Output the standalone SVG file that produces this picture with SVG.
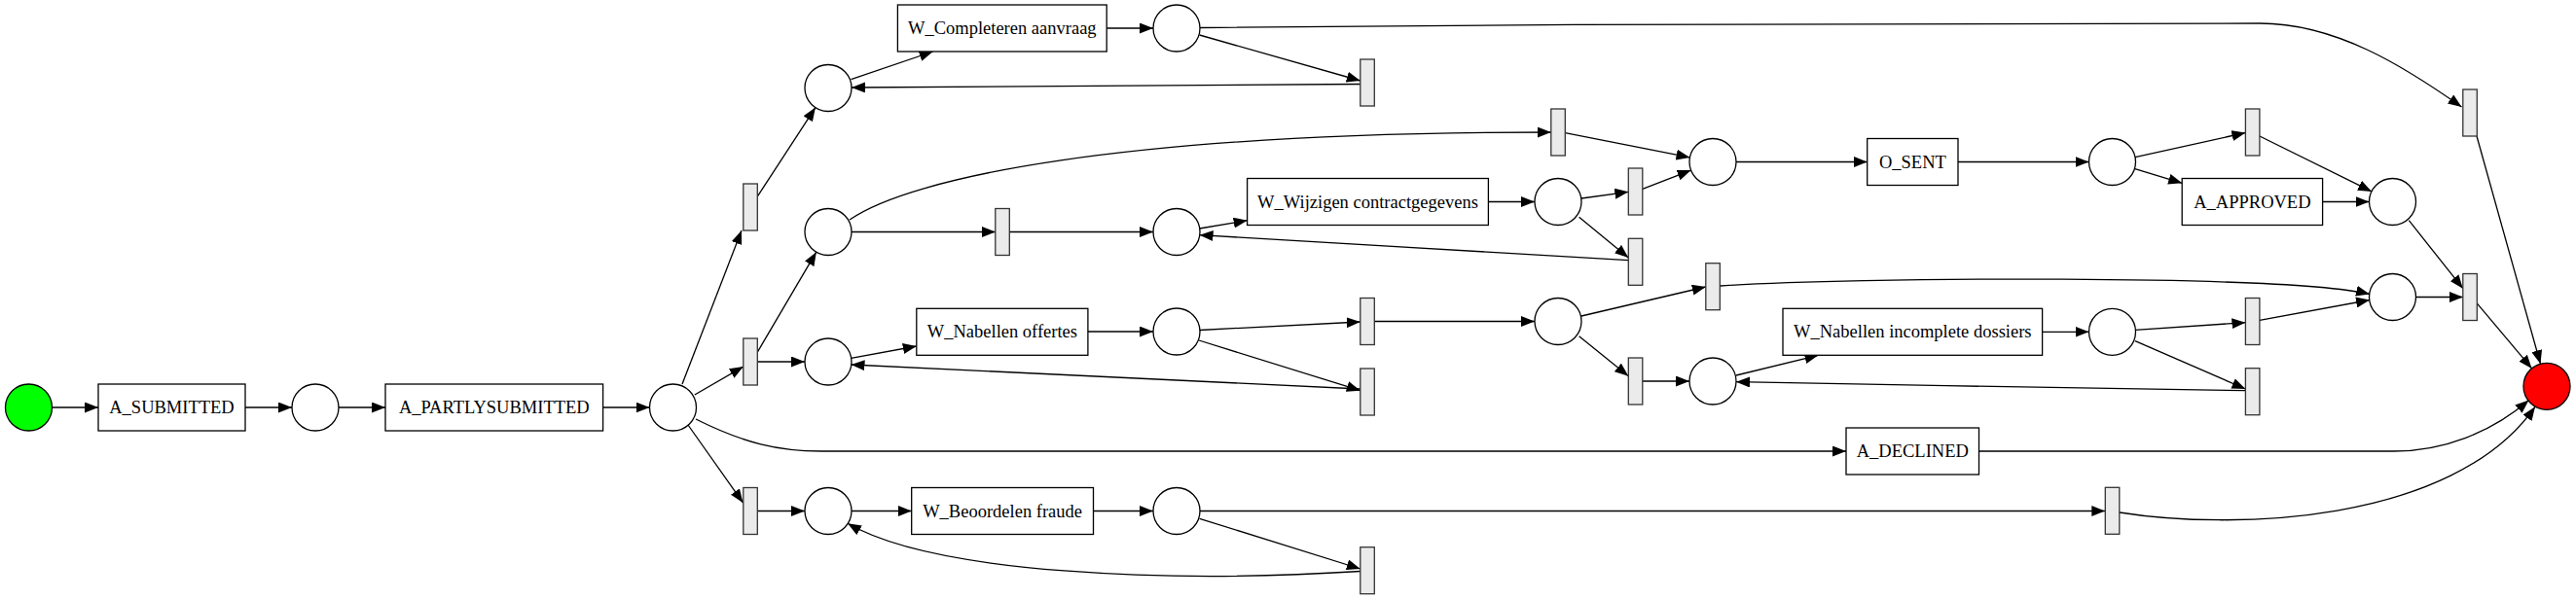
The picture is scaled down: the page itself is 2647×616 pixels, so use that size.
<svg xmlns="http://www.w3.org/2000/svg" width="2647" height="616" viewBox="0 0 2647 616">
<style>
.p{fill:#fff;stroke:#000;stroke-width:1.3}
.t{fill:#ebebeb;stroke:#333;stroke-width:1.3}
.b{fill:#fff;stroke:#000;stroke-width:1.3}
.l{font-family:"Liberation Serif","Times New Roman",serif;font-size:18.5px;text-anchor:middle;fill:#000}
#edges path{fill:none;stroke:#000;stroke-width:1.3;marker-end:url(#a)}
</style>
<defs>
<marker id="a" markerWidth="14" markerHeight="11" refX="14" refY="5.5" orient="auto" markerUnits="userSpaceOnUse"><path d="M0,0L14,5.5L0,11z" fill="#000"/></marker>
</defs>
<rect width="2647" height="616" fill="#fff"/>
<g id="edges">
<path d="M53.5,419L101,419"/>
<path d="M252,419L300,419"/>
<path d="M348,419L396,419"/>
<path d="M619.6,419L667.5,419"/>
<path d="M701,395L762,237"/>
<path d="M713.8,406L763.8,377"/>
<path d="M715,431C765,456 800,464 844,464L1897,464"/>
<path d="M707,437L763.5,517"/>
<path d="M778.6,201.7L837.9,110.6"/>
<path d="M778.6,361.7L838.8,259.2"/>
<path d="M778.3,372L827,372"/>
<path d="M778.3,525.5L827,525.5"/>
<path d="M874.5,81.7L958.7,53"/>
<path d="M1137.2,29L1185,29"/>
<path d="M1233,28.5C1600,24 2100,24 2322,24C2400,24 2470,68 2529.5,110"/>
<path d="M1232.6,36L1397.8,83"/>
<path d="M1397.8,86.5L875,90"/>
<path d="M873,226C935,183 1150,136 1593.8,136"/>
<path d="M875,238.5L1022.8,238.5"/>
<path d="M1037.3,238.5L1185,238.5"/>
<path d="M1232.6,235L1281.6,226.7"/>
<path d="M1529.4,207.5L1577,207.5"/>
<path d="M1625,204L1673.3,197.3"/>
<path d="M1622.6,223.3L1673.3,265"/>
<path d="M1673.3,267.7L1232.6,241.7"/>
<path d="M1687.8,194.3L1737.6,175.1"/>
<path d="M1608.3,136.7L1736.5,161.9"/>
<path d="M1784,166.5L1918.7,166.5"/>
<path d="M2012,166.5L2146.5,166.5"/>
<path d="M2194,161.7L2307.4,136.5"/>
<path d="M2193,173.3L2242.2,188.3"/>
<path d="M2321.9,140L2437,196.9"/>
<path d="M2386.6,207.5L2434.5,207.5"/>
<path d="M2475.3,226.7L2530.8,296.7"/>
<path d="M2545,140L2610.5,374.2"/>
<path d="M2545,311.7L2601.6,378.9"/>
<path d="M1232.6,339.5L1397.8,331"/>
<path d="M1232,350L1397.8,401.7"/>
<path d="M1397.8,400L874.5,375"/>
<path d="M874.5,368.3L941.8,356"/>
<path d="M1117.9,341L1185,341"/>
<path d="M1412.3,330.5L1577,330.5"/>
<path d="M1625,325L1752.8,295"/>
<path d="M1622.6,345.7L1673.3,386.7"/>
<path d="M1687.8,392L1736,392"/>
<path d="M1784,386L1868.5,365.3"/>
<path d="M2098.6,341.3L2146.5,341.3"/>
<path d="M2194,339.3L2307.4,331.7"/>
<path d="M2194,350.7L2307.4,400"/>
<path d="M2307.4,401.7L2000,396.7L1784,392.7"/>
<path d="M2321.9,329.3L2435,308.5"/>
<path d="M1767.3,294C1900,285 2350,282 2435,302.5"/>
<path d="M2482.5,305.5L2530.8,305.5"/>
<path d="M2033.5,464L2460,464C2510,464 2560,445 2598.5,411.5"/>
<path d="M2178,527C2290,545 2520,540 2605,418.3"/>
<path d="M1233,525.5L2163.3,525.5"/>
<path d="M1123.5,525.5L1185,525.5"/>
<path d="M875,525.5L936.7,525.5"/>
<path d="M1232.6,533.3L1397.8,585"/>
<path d="M1397.8,587.5C1200,600 960,590 871,538.3"/>
</g>
<g id="start"><circle cx="29.5" cy="419" r="24" fill="#00ff00" stroke="#000" stroke-width="1.3"/></g>
<g id="end"><circle cx="2617" cy="397.3" r="24" fill="#ff0000" stroke="#000" stroke-width="1.3"/></g>
<g id="p1"><circle class="p" cx="324" cy="419" r="24"/></g>
<g id="p2"><circle class="p" cx="691.5" cy="419" r="24"/></g>
<g id="p3"><circle class="p" cx="851" cy="90.5" r="24"/></g>
<g id="p4"><circle class="p" cx="1209" cy="29" r="24"/></g>
<g id="p5"><circle class="p" cx="851" cy="238.5" r="24"/></g>
<g id="p6"><circle class="p" cx="1209" cy="238.5" r="24"/></g>
<g id="p7"><circle class="p" cx="1601" cy="207.5" r="24"/></g>
<g id="p8"><circle class="p" cx="1760" cy="166.5" r="24"/></g>
<g id="p9"><circle class="p" cx="2170.5" cy="166.5" r="24"/></g>
<g id="p10"><circle class="p" cx="2458.5" cy="207.5" r="24"/></g>
<g id="p11"><circle class="p" cx="851" cy="372" r="24"/></g>
<g id="p12"><circle class="p" cx="1209" cy="341" r="24"/></g>
<g id="p13"><circle class="p" cx="1601" cy="330.5" r="24"/></g>
<g id="p14"><circle class="p" cx="1760" cy="392" r="24"/></g>
<g id="p15"><circle class="p" cx="2170.5" cy="341.3" r="24"/></g>
<g id="p16"><circle class="p" cx="2458.5" cy="305.5" r="24"/></g>
<g id="p17"><circle class="p" cx="851" cy="525.5" r="24"/></g>
<g id="p18"><circle class="p" cx="1209" cy="525.5" r="24"/></g>
<g id="t1"><rect class="t" x="763.8" y="189" width="14.5" height="48"/></g>
<g id="t2"><rect class="t" x="763.8" y="348" width="14.5" height="48"/></g>
<g id="t3"><rect class="t" x="763.8" y="501.5" width="14.5" height="48"/></g>
<g id="t4"><rect class="t" x="1397.8" y="61" width="14.5" height="48"/></g>
<g id="t5"><rect class="t" x="1022.8" y="214.5" width="14.5" height="48"/></g>
<g id="t6"><rect class="t" x="1593.8" y="112" width="14.5" height="48"/></g>
<g id="t7"><rect class="t" x="1673.3" y="173" width="14.5" height="48"/></g>
<g id="t8"><rect class="t" x="1673.3" y="245.3" width="14.5" height="48"/></g>
<g id="t9"><rect class="t" x="2307.4" y="112" width="14.5" height="48"/></g>
<g id="t10"><rect class="t" x="2530.8" y="92" width="14.5" height="48"/></g>
<g id="t11"><rect class="t" x="1397.8" y="306.5" width="14.5" height="48"/></g>
<g id="t12"><rect class="t" x="1397.8" y="379" width="14.5" height="48"/></g>
<g id="t13"><rect class="t" x="1752.8" y="270.7" width="14.5" height="48"/></g>
<g id="t14"><rect class="t" x="1673.3" y="368" width="14.5" height="48"/></g>
<g id="t15"><rect class="t" x="2307.4" y="306.5" width="14.5" height="48"/></g>
<g id="t16"><rect class="t" x="2307.4" y="378.7" width="14.5" height="48"/></g>
<g id="t17"><rect class="t" x="2530.8" y="281.5" width="14.5" height="48"/></g>
<g id="t18"><rect class="t" x="2163.3" y="501.3" width="14.5" height="48"/></g>
<g id="t19"><rect class="t" x="1397.8" y="562.7" width="14.5" height="48"/></g>
<g id="a_submitted"><rect class="b" x="101" y="395" width="151" height="48"/><text class="l" x="176.5" y="425">A_SUBMITTED</text></g>
<g id="a_partlysubmitted"><rect class="b" x="396" y="395" width="223.6" height="48"/><text class="l" x="507.8" y="425">A_PARTLYSUBMITTED</text></g>
<g id="w_completeren"><rect class="b" x="922.4" y="5" width="214.8" height="48"/><text class="l" x="1029.8" y="35">W_Completeren aanvraag</text></g>
<g id="w_wijzigen"><rect class="b" x="1281.6" y="183.5" width="247.8" height="48"/><text class="l" x="1405.5" y="213.5">W_Wijzigen contractgegevens</text></g>
<g id="o_sent"><rect class="b" x="1918.7" y="142.5" width="93.3" height="48"/><text class="l" x="1965.4" y="172.5">O_SENT</text></g>
<g id="a_approved"><rect class="b" x="2242.2" y="183.5" width="144.4" height="48"/><text class="l" x="2314.4" y="213.5">A_APPROVED</text></g>
<g id="w_nabellen_offertes"><rect class="b" x="941.8" y="317.3" width="176.1" height="48"/><text class="l" x="1029.9" y="347.3">W_Nabellen offertes</text></g>
<g id="w_nabellen_incomplete"><rect class="b" x="1832" y="317.3" width="266.6" height="48"/><text class="l" x="1965.3" y="347.3">W_Nabellen incomplete dossiers</text></g>
<g id="a_declined"><rect class="b" x="1897" y="440" width="136.5" height="48"/><text class="l" x="1965.3" y="470">A_DECLINED</text></g>
<g id="w_beoordelen"><rect class="b" x="936.7" y="501.5" width="186.8" height="48"/><text class="l" x="1030.1" y="531.5">W_Beoordelen fraude</text></g>
</svg>
